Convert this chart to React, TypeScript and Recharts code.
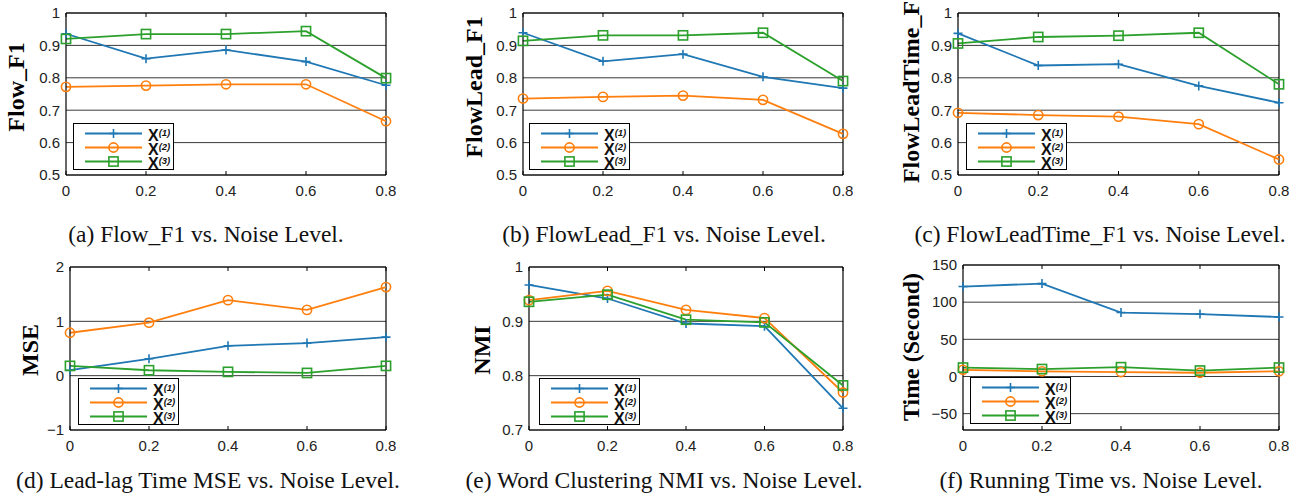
import React from 'react';
import { LineChart, Line, XAxis, YAxis, CartesianGrid, ReferenceLine } from 'recharts';

// ---------- data ----------
const noiseLevels = [0, 0.2, 0.4, 0.6, 0.8];
const xTicks = [0, 0.2, 0.4, 0.6, 0.8];
const seriesSup = ['(1)', '(2)', '(3)'];
const seriesColors = ['#1f77b4', '#ff7f0e', '#2ca02c'];

const flowX1 = [0.936, 0.859, 0.886, 0.850, 0.777];
const flowX2 = [0.772, 0.776, 0.780, 0.780, 0.666];
const flowX3 = [0.920, 0.935, 0.935, 0.944, 0.799];

const leadX1 = [0.939, 0.851, 0.873, 0.803, 0.768];
const leadX2 = [0.736, 0.741, 0.745, 0.732, 0.627];
const leadX3 = [0.914, 0.931, 0.931, 0.939, 0.790];

const leadTimeX1 = [0.937, 0.838, 0.842, 0.775, 0.723];
const leadTimeX2 = [0.692, 0.685, 0.680, 0.657, 0.548];
const leadTimeX3 = [0.906, 0.926, 0.930, 0.939, 0.780];

const mseX1 = [0.10, 0.31, 0.55, 0.60, 0.71];
const mseX2 = [0.79, 0.975, 1.39, 1.21, 1.63];
const mseX3 = [0.18, 0.10, 0.07, 0.05, 0.18];

const nmiX1 = [0.967, 0.942, 0.896, 0.891, 0.740];
const nmiX2 = [0.939, 0.956, 0.921, 0.906, 0.769];
const nmiX3 = [0.936, 0.949, 0.903, 0.898, 0.782];

const timeX1 = [121, 125, 86, 84, 80];
const timeX2 = [9, 7, 6, 5, 7];
const timeX3 = [12, 10, 12.5, 8, 12];

const f1Ticks = [0.5, 0.6, 0.7, 0.8, 0.9, 1];
const mseTicks = [-1, 0, 1, 2];
const nmiTicks = [0.7, 0.8, 0.9, 1];
const timeTicks = [-50, 0, 50, 100, 150];

const rows = (a: number[], b: number[], c: number[]) =>
  noiseLevels.map((x, i) => ({ x, s1: a[i], s2: b[i], s3: c[i] }));

// ---------- layout ----------
type Panel = {
  key: string;
  data: any[];
  yDomain: [number, number];
  yTicks: number[];
  box: [number, number, number, number];
  leg: [number, number];
  lab: [number, number];
  yLabel: string;
  caption: string;
  cap: [number, number];
};

const panels: Panel[] = [
  { key: 'a', data: rows(flowX1, flowX2, flowX3), yDomain: [0.5, 1], yTicks: f1Ticks, box: [66, 13, 386, 175], leg: [73, 123], lab: [16, 87], yLabel: 'Flow_F1', caption: '(a) Flow_F1 vs. Noise Level.', cap: [206, 235] },
  { key: 'b', data: rows(leadX1, leadX2, leadX3), yDomain: [0.5, 1], yTicks: f1Ticks, box: [523, 13, 843, 175], leg: [529, 123], lab: [474, 87], yLabel: 'FlowLead_F1', caption: '(b) FlowLead_F1 vs. Noise Level.', cap: [664, 235] },
  { key: 'c', data: rows(leadTimeX1, leadTimeX2, leadTimeX3), yDomain: [0.5, 1], yTicks: f1Ticks, box: [958, 13, 1279, 175], leg: [966, 123], lab: [911, 86], yLabel: 'FlowLeadTime_F1', caption: '(c) FlowLeadTime_F1 vs. Noise Level.', cap: [1100, 235] },
  { key: 'd', data: rows(mseX1, mseX2, mseX3), yDomain: [-1, 2], yTicks: mseTicks, box: [70, 267, 386, 430], leg: [78, 378], lab: [30, 350], yLabel: 'MSE', caption: '(d) Lead-lag Time MSE vs. Noise Level.', cap: [208, 481] },
  { key: 'e', data: rows(nmiX1, nmiX2, nmiX3), yDomain: [0.7, 1], yTicks: nmiTicks, box: [529, 267, 843, 430], leg: [539, 378], lab: [482, 350], yLabel: 'NMI', caption: '(e) Word Clustering NMI vs. Noise Level.', cap: [664, 481] },
  { key: 'f', data: rows(timeX1, timeX2, timeX3), yDomain: [-72, 150], yTicks: timeTicks, box: [963, 265, 1279, 430], leg: [970, 377], lab: [911, 347], yLabel: 'Time (Second)', caption: '(f) Running Time vs. Noise Level.', cap: [1101, 481] },
];

const SANS = '"Liberation Sans", Arial, Helvetica, sans-serif';
const SERIF = '"Liberation Serif", "Times New Roman", serif';

const fmt = (v: number) => (v < 0 ? '\u2212' + String(Math.abs(v)) : String(v));

// ---------- markers ----------
const markerShape = (kind: number, cx: number, cy: number, color: string, key?: any) => {
  const sw = 1.6;
  if (kind === 0) {
    const h = 4.5;
    return <path key={key} d={`M${cx - h},${cy}H${cx + h}M${cx},${cy - h}V${cy + h}`} stroke={color} strokeWidth={sw} fill="none" />;
  }
  if (kind === 1) {
    return <circle key={key} cx={cx} cy={cy} r={4.6} stroke={color} strokeWidth={sw} fill="none" />;
  }
  const h = 4.6;
  return <rect key={key} x={cx - h} y={cy - h} width={2 * h} height={2 * h} stroke={color} strokeWidth={sw} fill="none" />;
};

const makeDot = (kind: number, color: string) => (props: any) => {
  const { cx, cy, index } = props;
  if (cx == null || cy == null) return <g key={`d${kind}-${index}`} />;
  return <g key={`d${kind}-${index}`}>{markerShape(kind, cx, cy, color)}</g>;
};

const PLOT_TOP = 10;
const XTick = (props: any) => {
  const { x, y, payload } = props;
  return (
    <g>
      <line x1={x} x2={x} y1={y} y2={y - 4} stroke="#000" strokeWidth={1} />
      <line x1={x} x2={x} y1={PLOT_TOP} y2={PLOT_TOP + 4} stroke="#000" strokeWidth={1} />
      <text x={x} y={y + 20.5} textAnchor="middle" fontSize={15} fill="#222" fontFamily={SANS}>
        {fmt(payload.value)}
      </text>
    </g>
  );
};

function LegendBox({ left, top }: { left: number; top: number }) {
  const rowsY = [9.5, 23.5, 37.5];
  return (
    <div style={{ position: 'absolute', left, top, width: 101, height: 47, border: '1.6px solid #000', background: '#fff', boxSizing: 'border-box' }}>
      <svg width={98} height={44} style={{ position: 'absolute', left: 0, top: 0, overflow: 'visible' }}>
        {rowsY.map((ry, i) => (
          <g key={i}>
            <line x1={11} x2={68} y1={ry} y2={ry} stroke={seriesColors[i]} strokeWidth={1.8} />
            {markerShape(i, 39.5, ry, seriesColors[i])}
            <text x={74} y={ry + 7.5} fontSize={16} fontWeight="bold" fontFamily={SANS} fill="#111">
              X
              <tspan dy={-5.5} fontSize={9.5} fontStyle="italic" fontWeight="bold">{seriesSup[i]}</tspan>
            </text>
          </g>
        ))}
      </svg>
    </div>
  );
}

function PanelChart({ p }: { p: Panel }) {
  const [l, t, r, b] = p.box;
  const width = r - l + 60;
  const height = b - t + 40;
  return (
    <div style={{ position: 'absolute', left: l - 50, top: t - 10, width, height }}>
      <LineChart width={width} height={height} data={p.data} margin={{ top: 10, right: 10, bottom: 0, left: 0 }}>
        <CartesianGrid vertical={false} stroke="#3a3a3a" strokeWidth={1} />
        <XAxis
          dataKey="x"
          type="number"
          domain={[0, 0.8]}
          ticks={xTicks}
          height={30}
          axisLine={{ stroke: '#000', strokeWidth: 1.2 }}
          tickLine={false}
          tickSize={0}
          tickMargin={0}
          tick={XTick}
          interval={0}
        />
        <YAxis
          type="number"
          domain={p.yDomain}
          ticks={p.yTicks}
          width={50}
          allowDataOverflow
          axisLine={{ stroke: '#000', strokeWidth: 1.2 }}
          tickLine={false}
          tickSize={4}
          tickMargin={2}
          tickFormatter={fmt}
          tick={{ fontSize: 15, fill: '#222', fontFamily: SANS }}
          interval={0}
        />
        <ReferenceLine x={0.8} stroke="#000" strokeWidth={1.2} />
        <ReferenceLine y={p.yDomain[1]} stroke="#000" strokeWidth={1.2} />
        {['s1', 's2', 's3'].map((k, i) => (
          <Line
            key={k}
            type="linear"
            dataKey={k}
            stroke={seriesColors[i]}
            strokeWidth={1.8}
            dot={makeDot(i, seriesColors[i])}
            activeDot={false}
            isAnimationActive={false}
          />
        ))}
      </LineChart>
    </div>
  );
}

export default function App() {
  return (
    <div style={{ position: 'absolute', left: 0, top: 0, width: 1309, height: 497, background: '#fff', overflow: 'hidden' }}>
      {panels.map((p) => (
        <PanelChart key={p.key} p={p} />
      ))}
      {panels.map((p) => (
        <LegendBox key={'lg' + p.key} left={p.leg[0]} top={p.leg[1]} />
      ))}
      {panels.map((p) => (
        <div
          key={'yl' + p.key}
          style={{
            position: 'absolute',
            left: p.lab[0],
            top: p.lab[1],
            transform: 'translate(-50%, -50%) rotate(-90deg)',
            whiteSpace: 'nowrap',
            fontFamily: SERIF,
            fontWeight: 'bold',
            fontSize: 24,
            lineHeight: 1,
            color: '#000',
          }}
        >
          {p.yLabel}
        </div>
      ))}
      {panels.map((p) => (
        <div
          key={'cp' + p.key}
          style={{
            position: 'absolute',
            left: p.cap[0],
            top: p.cap[1],
            transform: 'translate(-50%, -50%)',
            whiteSpace: 'nowrap',
            fontFamily: SERIF,
            fontSize: 23.5,
            lineHeight: 1,
            color: '#111',
          }}
        >
          {p.caption}
        </div>
      ))}
    </div>
  );
}
